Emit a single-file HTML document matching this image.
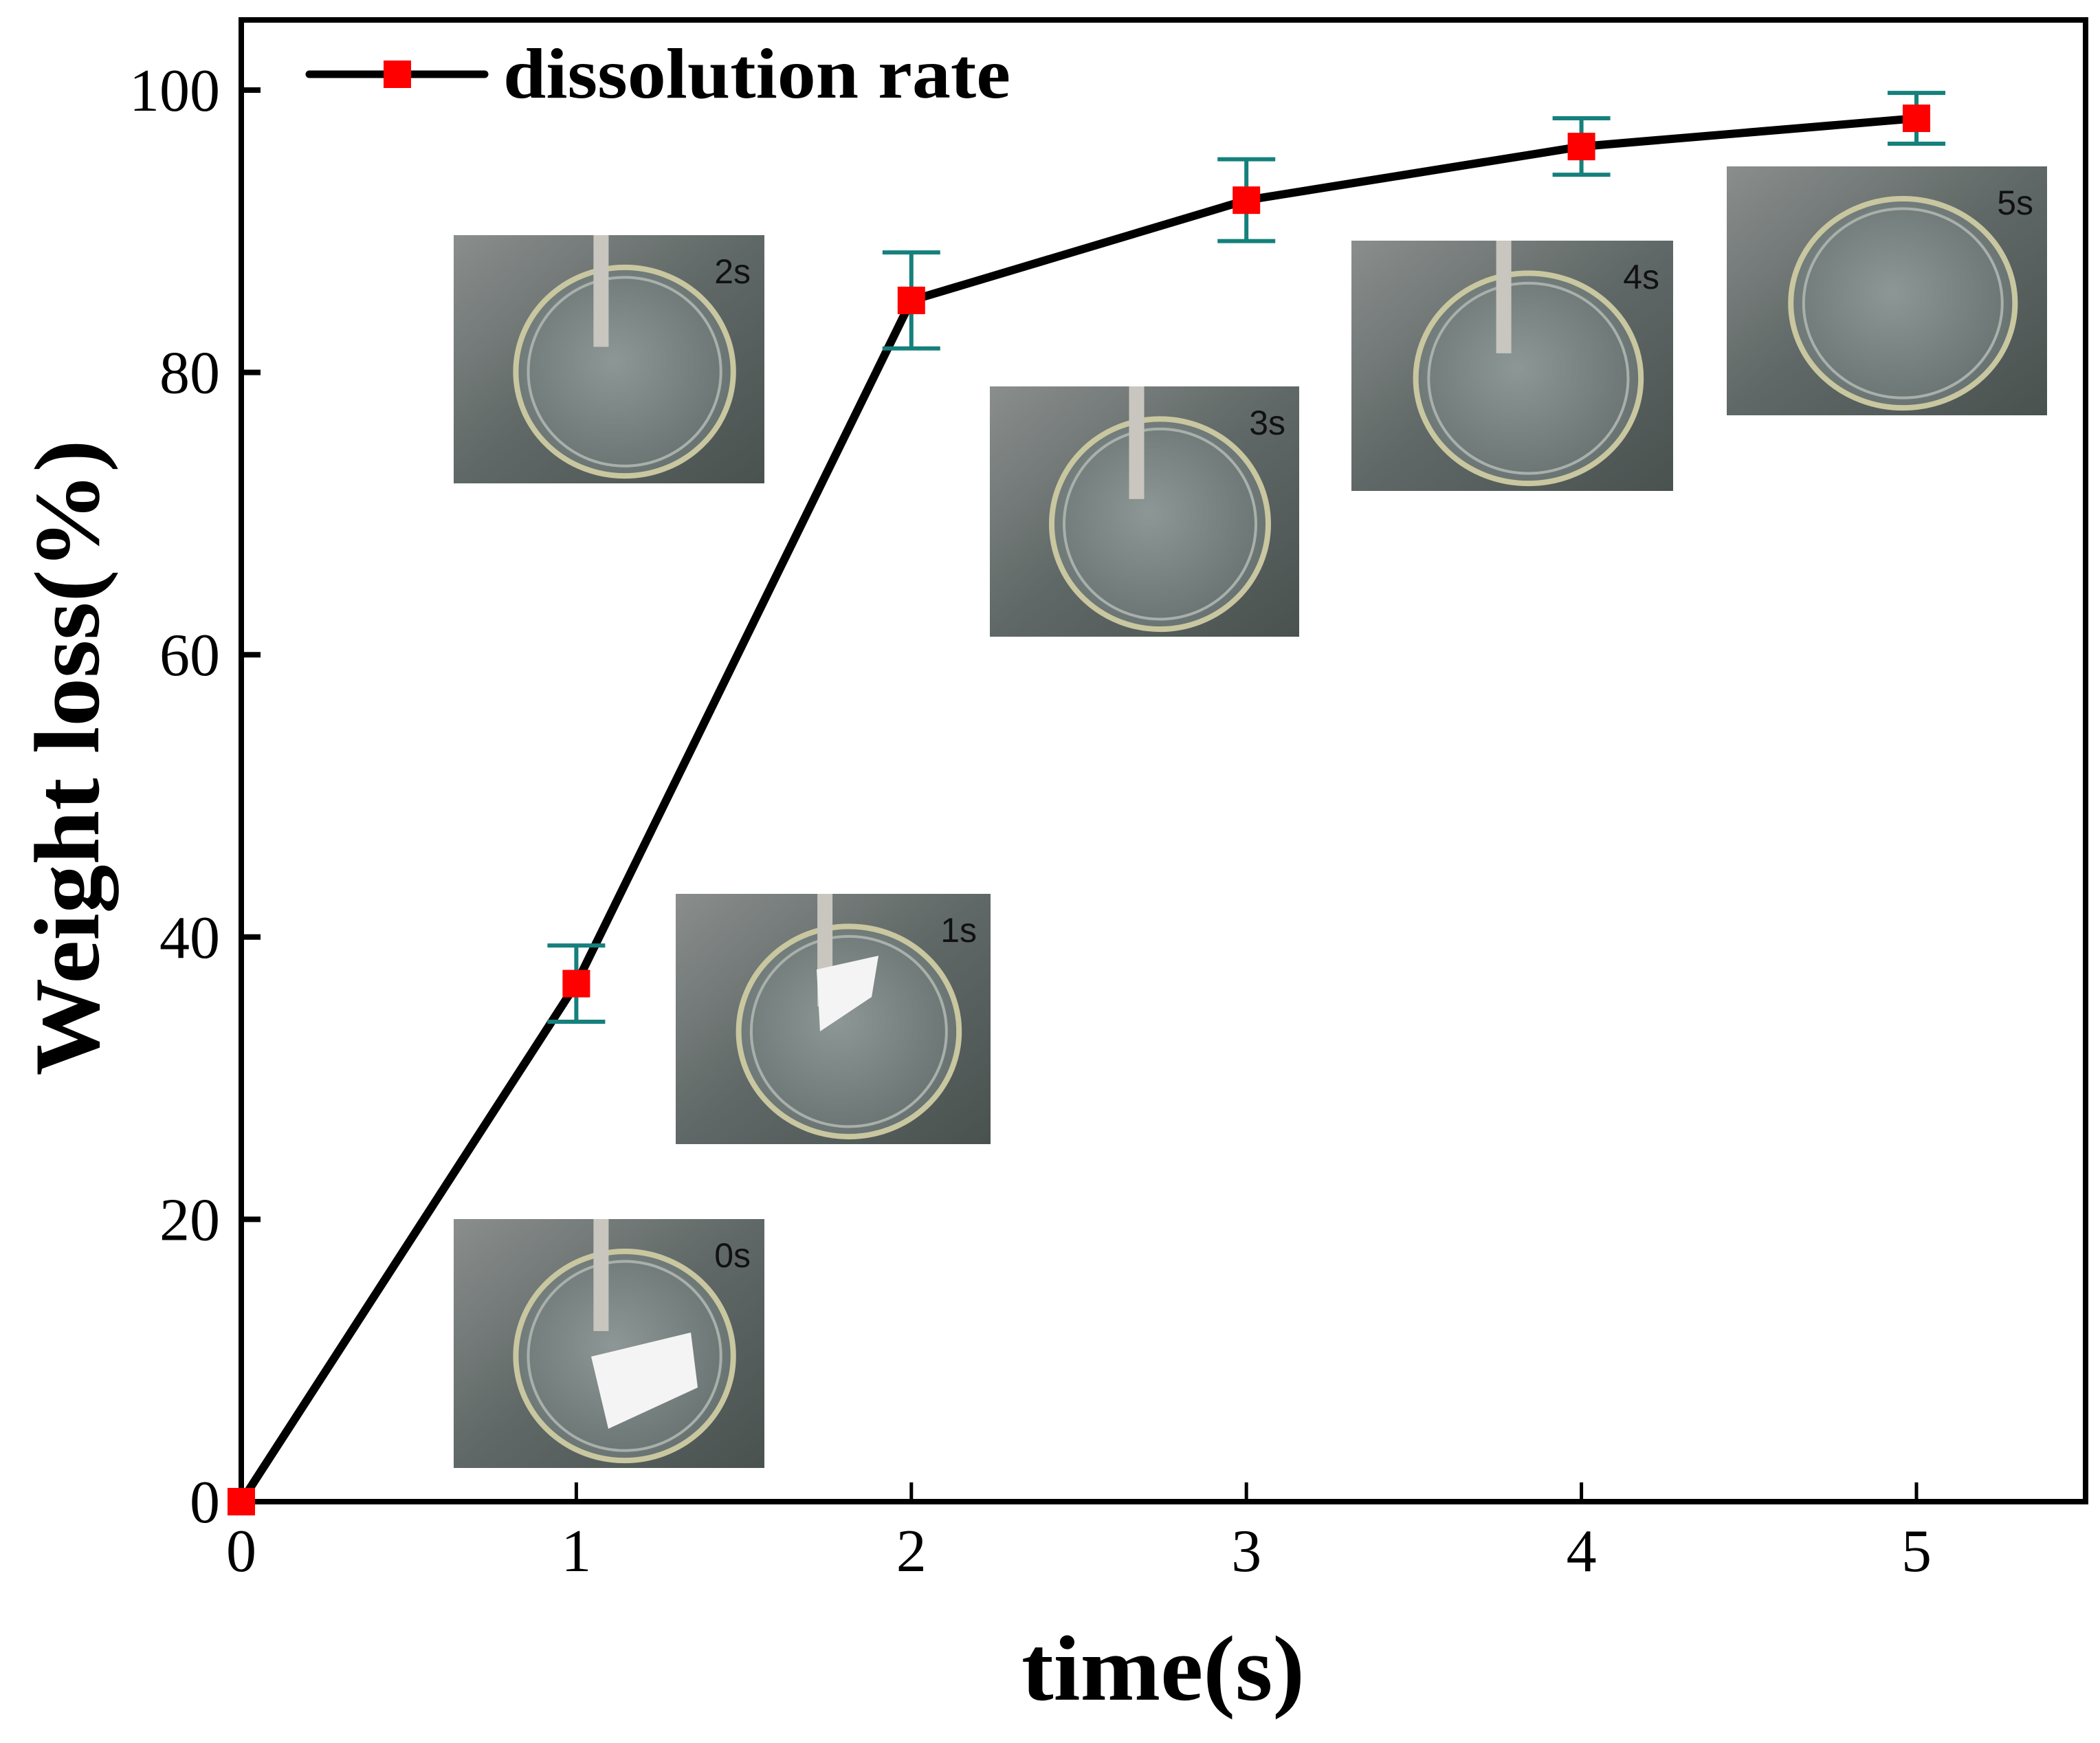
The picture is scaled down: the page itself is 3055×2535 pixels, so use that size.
<!DOCTYPE html>
<html><head><meta charset="utf-8"><style>
html,body{margin:0;padding:0;background:#fff}
svg{display:block}
</style></head><body>
<svg id="chart" width="3055" height="2535" viewBox="0 0 3055 2535" xmlns="http://www.w3.org/2000/svg">
<defs>
<linearGradient id="bg" x1="0" y1="0" x2="1" y2="1">
<stop offset="0" stop-color="#8a8e8d"/><stop offset="0.5" stop-color="#5f6866"/><stop offset="1" stop-color="#4a5250"/>
</linearGradient>
<radialGradient id="dish" cx="0.45" cy="0.45" r="0.6">
<stop offset="0" stop-color="#8d9795"/><stop offset="1" stop-color="#66716f"/>
</radialGradient>
</defs>
<g id="insets"></g>
<g id="plot"></g>
</svg>
<script>
const times = [0, 1, 2, 3, 4, 5];
const weightLoss = [0, 36.7, 85.1, 92.2, 96.0, 98.0];
const errors = [0, 2.7, 3.4, 2.9, 2.0, 1.8];
const xTicks = [0, 1, 2, 3, 4, 5];
const yTicks = [0, 20, 40, 60, 80, 100];
const insetLabels = ['0s', '1s', '2s', '3s', '4s', '5s'];

const NS = 'http://www.w3.org/2000/svg';
const X0 = 351, XPU = 487.4, Y0 = 2184, YPU = 20.53;
const xs = v => X0 + v * XPU;
const ys = v => Y0 - v * YPU;
function mk(tag, attrs, parent) {
  const e = document.createElementNS(NS, tag);
  for (const k in attrs) e.setAttribute(k, attrs[k]);
  parent.appendChild(e);
  return e;
}
const plot = document.getElementById('plot');
const insets = document.getElementById('insets');

const boxes = [[660,1773,452,362],[983,1300,458,364],[660,342,452,361],[1440,562,450,364],[1966,350,468,364],[2512,242,466,362]];
boxes.forEach((b, i) => {
  const g = mk('g', {}, insets);
  
  
  mk('rect', {x:b[0], y:b[1], width:b[2], height:b[3], fill:'url(#bg)'}, g);
  const cx = b[0] + b[2]*0.55, cy = b[1] + b[3]*0.55;
  mk('ellipse', {cx:cx, cy:cy, rx:b[2]*0.35, ry:b[3]*0.42, fill:'url(#dish)', stroke:'#c9c7a0', 'stroke-width':8}, g);
  mk('ellipse', {cx:cx, cy:cy, rx:b[2]*0.31, ry:b[3]*0.38, fill:'none', stroke:'#a9b0ab', 'stroke-width':4}, g);
  if (i < 5) mk('rect', {x:b[0]+b[2]*0.45, y:b[1], width:22, height:b[3]*0.45, fill:'#c8c6bf'}, g);
  if (i === 0) mk('polygon', {points:`${b[0]+200},${b[1]+200} ${b[0]+345},${b[1]+165} ${b[0]+355},${b[1]+245} ${b[0]+225},${b[1]+305}`, fill:'#f4f4f4'}, g);
  if (i === 1) mk('polygon', {points:`${b[0]+205},${b[1]+110} ${b[0]+295},${b[1]+90} ${b[0]+285},${b[1]+150} ${b[0]+210},${b[1]+200}`, fill:'#f4f4f4'}, g);
  const t = mk('text', {x:b[0]+b[2]-20, y:b[1]+70, 'text-anchor':'end', 'font-family':'Liberation Sans, sans-serif', 'font-size':50, fill:'#111'}, g);
  t.textContent = insetLabels[i];
});

const frame = mk('rect', {x:351, y:29, width:2683, height:2155, fill:'none', stroke:'#000', 'stroke-width':8}, plot);



xTicks.forEach(v => {
  const l = mk('line', {x1:xs(v), x2:xs(v), y1:2184, y2:2156, stroke:'#000', 'stroke-width':5}, plot);
  
  
  const t = mk('text', {x:xs(v), y:2285, 'text-anchor':'middle', 'font-family':'Liberation Serif, serif', 'font-size':88}, plot);
  
  
  t.textContent = v;
});
yTicks.forEach(v => {
  const l = mk('line', {x1:351, x2:379, y1:ys(v), y2:ys(v), stroke:'#000', 'stroke-width':8}, plot);
  
  
  const t = mk('text', {x:320, y:ys(v)+30, 'text-anchor':'end', 'font-family':'Liberation Serif, serif', 'font-size':88}, plot);
  
  
  t.textContent = v;
});

const pts = times.map((t, i) => xs(t) + ',' + ys(weightLoss[i])).join(' ');
const pl = mk('polyline', {points:pts, fill:'none', stroke:'#000', 'stroke-width':12, 'stroke-linejoin':'round'}, plot);



times.forEach((t, i) => {
  if (!errors[i]) return;
  const g = mk('g', {stroke:'#15807c', 'stroke-width':6}, plot);
  
  
  const x = xs(t), yt = ys(weightLoss[i] + errors[i]), yb = ys(weightLoss[i] - errors[i]);
  mk('line', {x1:x, x2:x, y1:yt, y2:yb}, g);
  mk('line', {x1:x-42, x2:x+42, y1:yt, y2:yt}, g);
  mk('line', {x1:x-42, x2:x+42, y1:yb, y2:yb}, g);
});

times.forEach((t, i) => {
  const r = mk('rect', {x:xs(t)-20, y:ys(weightLoss[i])-20, width:40, height:40, fill:'#ff0000'}, plot);
  
  
});

const lg = mk('g', {}, plot);


mk('line', {x1:450, x2:705, y1:108, y2:108, stroke:'#000', 'stroke-width':11, 'stroke-linecap':'round'}, lg);
mk('rect', {x:558, y:88, width:40, height:40, fill:'#ff0000'}, lg);
const lt = mk('text', {x:732, y:142, 'font-family':'Liberation Serif, serif', 'font-weight':'bold', 'font-size':104, textLength:738, lengthAdjust:'spacingAndGlyphs'}, lg);
lt.textContent = 'dissolution rate';

const xt = mk('text', {x:1692, y:2472, 'text-anchor':'middle', 'font-family':'Liberation Serif, serif', 'font-weight':'bold', 'font-size':135, textLength:412, lengthAdjust:'spacingAndGlyphs'}, plot);


xt.textContent = 'time(s)';
const yt = mk('text', {x:0, y:0, 'text-anchor':'middle', 'font-family':'Liberation Serif, serif', 'font-weight':'bold', 'font-size':135, textLength:925, lengthAdjust:'spacingAndGlyphs', transform:'translate(143,1102) rotate(-90)'}, plot);


yt.textContent = 'Weight loss(%)';
</script>
</body></html>
